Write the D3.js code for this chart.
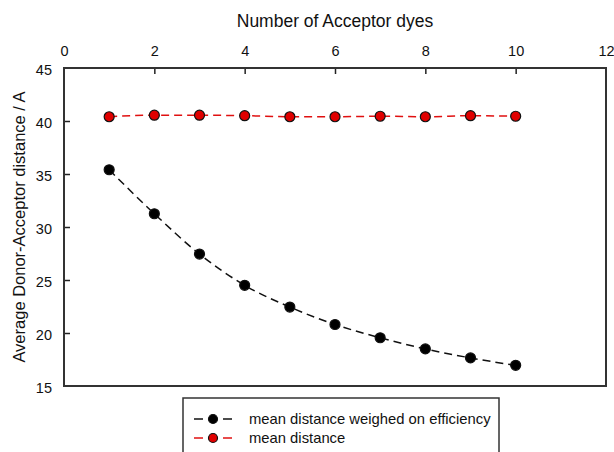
<!DOCTYPE html>
<html>
<head>
<meta charset="utf-8">
<script src="https://cdn.jsdelivr.net/npm/d3@7"></script>
<style>
  body { margin: 0; background: #fff; }
  text { font-family: "Liberation Sans", Arial, sans-serif; fill: #111; }
</style>
</head>
<body>
<svg width="614" height="452"></svg>
<script>
// chart values
var acceptors = [1, 2, 3, 4, 5, 6, 7, 8, 9, 10];
var weighed = [35.4, 31.25, 27.45, 24.5, 22.45, 20.8, 19.55, 18.5, 17.65, 16.95];
var meanDist = [40.4, 40.55, 40.55, 40.5, 40.4, 40.4, 40.45, 40.4, 40.5, 40.45];
var xTicks = [0, 2, 4, 6, 8, 10, 12];
var yTicks = [15, 20, 25, 30, 35, 40, 45];
var seriesNames = ["mean distance weighed on efficiency", "mean distance"];

const plotLeft = 64, plotRight = 606, plotTop = 68, plotBottom = 386;

window.onload = function() {
    var svg = d3.select("svg");

    var x = d3.scaleLinear().domain([0, 12]).range([plotLeft, plotRight]);
    var y = d3.scaleLinear().domain([15, 45]).range([plotBottom, plotTop]);

    // top axis, ticks pointing in
    var xAxis = svg.append("g")
        .attr("transform", "translate(0," + plotTop + ")")
        .call(d3.axisTop(x).tickValues(xTicks).tickSize(-6).tickPadding(12));
    xAxis.select(".domain").remove();
    xAxis.selectAll("line").attr("stroke", "#222").attr("stroke-width", 1.5)
        .filter(d => d == 0 || d == 12).remove();
    xAxis.selectAll("text").attr("font-size", 14.5).attr("font-family", "Liberation Sans, Arial").attr("fill", "#111");

    var yAxis = svg.append("g")
        .attr("transform", "translate(" + plotLeft + ",0)")
        .call(d3.axisLeft(y).tickValues(yTicks).tickSize(-6).tickPadding(12));
    yAxis.select(".domain").remove();
    yAxis.selectAll("line").attr("stroke", "#222").attr("stroke-width", 1.5)
        .filter(d => d == 15 || d == 45).remove();
    yAxis.selectAll("text").attr("font-size", 14.5).attr("dy", "0.45em")
        .attr("font-family", "Liberation Sans, Arial").attr("fill", "#111");

    // frame
    svg.append("rect")
        .attr("x", plotLeft).attr("y", plotTop)
        .attr("width", plotRight - plotLeft).attr("height", plotBottom - plotTop)
        .attr("fill", "none").attr("stroke", "#333").attr("stroke-width", 2);

    svg.append("text")
        .attr("x", 335).attr("y", 27)
        .attr("text-anchor", "middle").attr("font-size", 17.5)
        .text("Number of Acceptor dyes");

    svg.append("text")
        .attr("transform", "translate(25," + (plotTop + plotBottom) / 2 + ") rotate(-90)")
        .attr("text-anchor", "middle").attr("font-size", 16.5)
        .text("Average Donor-Acceptor distance / A");

    var series = [
        {name: seriesNames[0], values: weighed, line: "#111", fill: "#000"},
        {name: seriesNames[1], values: meanDist, line: "#e01010", fill: "#e00000"}
    ];

    var line = d3.line()
        .x(function(d, i) { return x(acceptors[i]); })
        .y(function(d) { return y(d); })
        .curve(d3.curveMonotoneX);

    series.forEach(function(s) {
        svg.append("path")
            .attr("d", line(s.values))
            .attr("fill", "none")
            .attr("stroke", s.line)
            .attr("stroke-width", 1.5)
            .attr("stroke-dasharray", "8,5");

        svg.selectAll(null).data(s.values).enter().append("circle")
            .attr("cx", function(d, i) { return x(acceptors[i]); })
            .attr("cy", function(d) { return y(d); })
            .attr("r", 5)
            .attr("fill", s.fill)
            .attr("stroke", "#111")
            .attr("stroke-width", 1.2);
    });

    // legend
    svg.append("rect")
        .attr("x", 183).attr("y", 398)
        .attr("width", 316).attr("height", 70)
        .attr("fill", "#fff").attr("stroke", "#333").attr("stroke-width", 1.5);

    series.forEach(function(s, i) {
        var ly = 419 + i * 19;
        [[194, 203], [223, 232]].forEach(function(seg) {
            svg.append("line")
                .attr("x1", seg[0]).attr("x2", seg[1]).attr("y1", ly).attr("y2", ly)
                .attr("stroke", s.line).attr("stroke-width", 1.5);
        });
        svg.append("circle")
            .attr("cx", 213).attr("cy", ly).attr("r", 4.5)
            .attr("fill", s.fill).attr("stroke", "#111").attr("stroke-width", 1.2);
        svg.append("text")
            .attr("x", 249).attr("y", ly + 5)
            .attr("font-size", 14.8)
            .text(s.name);
    });
}
</script>
</body>
</html>
